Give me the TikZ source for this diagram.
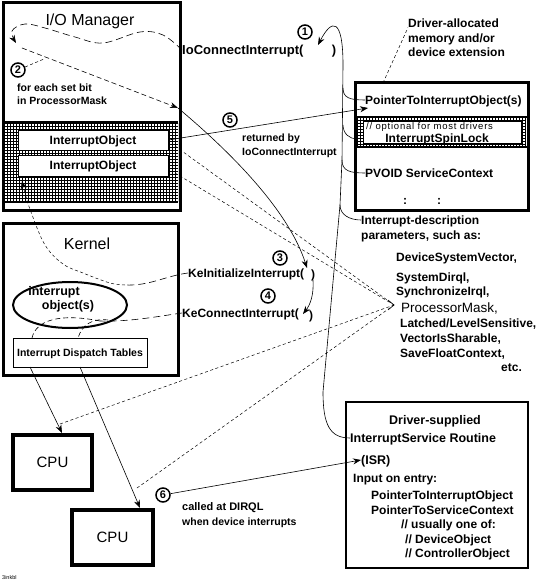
\documentclass[tikz,border=0pt]{standalone}
\usepackage{fontspec}
\setmainfont{Liberation Sans}
\usetikzlibrary{arrows.meta,shapes.geometric}
\newcommand\myfs[1]{\fontsize{#1}{#1}\selectfont}
\tikzset{
  txb/.style={font=\bfseries\myfs{#1}, inner sep=0pt, text height=0.72*#1pt, text depth=0pt},
  txr/.style={font=\myfs{#1}, inner sep=0pt, text height=0.72*#1pt, text depth=0pt},
  heavy/.style={draw, line width=3pt, inner sep=0pt},
  wbox/.style={draw, line width=0.8pt, fill=white},
  num/.style={circle, draw, line width=1.5pt, minimum size=14pt, inner sep=0pt, font=\bfseries\myfs{11}},
  conn/.style={line width=0.6pt},
  arr/.style={-{Stealth[length=8pt,width=6pt]}},
  longdash/.style={dash pattern=on 7pt off 4pt, line width=0.6pt},
  middash/.style={dash pattern=on 5pt off 3pt, line width=0.6pt},
  finedash/.style={dash pattern=on 3pt off 2.5pt, line width=0.5pt},
  gridln/.style={line width=0.65pt},
}
\begin{document}
\begin{tikzpicture}[x=1pt,y=-1pt]
\useasboundingbox (0,0) rectangle (538,583);

% ---------- I/O Manager ----------
\begin{scope}
\clip (4,123) rectangle (178,202);
\foreach \k in {0,...,58} {\draw[gridln] ({4+3*\k},123) -- ({4+3*\k},202);}
\foreach \k in {0,...,27} {\draw[gridln] (4,{123+3*\k}) -- (178,{123+3*\k});}
\end{scope}
\draw[line width=2pt] (4,122) -- (178,122) (4,202) -- (178,202);
\node[heavy, minimum width=177pt, minimum height=207pt] (io) at (91.5,106.5) {};
\node[txr=16] (iot) at (90,20) {I/O Manager};
\node[wbox, txb=12, minimum width=150pt, minimum height=20pt] (ioA) at (93,140) {InterruptObject};
\node[wbox, txb=12, minimum width=150pt, minimum height=21pt] (ioB) at (93,165.5) {InterruptObject};
\node[txb=10.5, anchor=west] (fe1) at (17,88) {for each set bit};
\node[txb=10.5, anchor=west] (fe2) at (17,101) {in ProcessorMask};

% ---------- Driver-allocated memory ----------
\begin{scope}
\clip (357,118) rectangle (526,147);
\foreach \k in {0,...,57} {\draw[gridln] ({357+3*\k},117) -- ({357+3*\k},147);}
\foreach \k in {0,...,10} {\draw[gridln] (357,{117+3*\k}) -- (526,{117+3*\k});}
\end{scope}
\draw[line width=2pt] (356,117) -- (527,117) (356,147) -- (527,147);
\node[heavy, minimum width=173pt, minimum height=127pt] (dab) at (441.5,146.5) {};
\node[wbox, minimum width=158pt, minimum height=22pt] (spin) at (442,132) {};
\node[txr=9.5, anchor=west, font=\myfs{9.5}\addfontfeature{LetterSpace=8}] (opt) at (366,126.5) {// optional for most drivers};
\node[txb=12] (spl) at (437,138.5) {InterruptSpinLock};
\node[txb=12, anchor=west] (ptr) at (365,100) {PointerToInterruptObject(s)};
\node[txb=12, anchor=west] (pvoid) at (365,173) {PVOID ServiceContext};
\node[txb=12] (dots) at (422,200) {:\hspace{30pt}:};
\node[txb=12, anchor=west] (dal) at (408,23) {Driver-allocated};
\node[txb=12, anchor=west] (dal2) at (408,38) {memory and/or};
\node[txb=12, anchor=west] (dal3) at (408,52) {device extension};

% ---------- calls ----------
\node[txb=13, anchor=west] (ioc) at (182,50) {IoConnectInterrupt(};
\node[txb=13] (iocp) at (334,50) {)};
\node[txb=12, anchor=west] (kei) at (188,273) {KeInitializeInterrupt(};
\node[txb=12] (keip) at (313,274) {)};
\node[txb=12, anchor=west] (kec) at (182,313) {KeConnectInterrupt(};
\node[txb=12] (kecp) at (311,315) {)};
\node[txb=10.5, anchor=west] (ret1) at (242,138) {returned by};
\node[txb=10.5, anchor=west] (ret2) at (242,152) {IoConnectInterrupt};

% ---------- parameters ----------
\node[txb=12, anchor=west] (idesc) at (361,220) {Interrupt-description};
\node[txb=12, anchor=west] (idesc2) at (361,235) {parameters, such as:};
\node[txb=12, anchor=west] (p1) at (396,257) {DeviceSystemVector,};
\node[txb=12, anchor=west] (p2) at (396,277) {SystemDirql,};
\node[txb=12, anchor=west] (p3) at (396,291) {SynchronizeIrql,};
\node[txr=13.5, anchor=west] (p4) at (401,308) {ProcessorMask,};
\node[txb=12, anchor=west] (p5) at (400,323) {Latched/LevelSensitive,};
\node[txb=12, anchor=west] (p6) at (400,338) {VectorIsSharable,};
\node[txb=12, anchor=west] (p7) at (400,353) {SaveFloatContext,};
\node[txb=12, anchor=west] (p8) at (501,367) {etc.};

% ---------- Kernel ----------
\node[heavy, minimum width=175pt, minimum height=152pt] (kern) at (90.5,299) {};
\node[txr=16] (kt) at (87,244) {Kernel};
\node[draw, ellipse, line width=2pt, minimum width=114pt, minimum height=46pt, inner sep=0pt] (ell) at (70,305) {};
\node[txb=12.5] (eo1) at (54,291) {interrupt};
\node[txb=12.5] (eo2) at (68,305) {object(s)};
\node[wbox, txb=10.5, minimum width=134pt, minimum height=29pt] (idt) at (80,352.5) {Interrupt Dispatch Tables};

% ---------- CPUs ----------
\node[draw, line width=4pt, minimum width=79pt, minimum height=55pt, txr=15] (cpu1) at (52.5,462.5) {CPU};
\node[draw, line width=4pt, minimum width=81pt, minimum height=55pt, txr=15] (cpu2) at (112.5,537.5) {CPU};
\node[txb=11, anchor=west] (cal1) at (182,507) {called at DIRQL};
\node[txb=10.5, anchor=west] (cal2) at (182,522) {when device interrupts};

% ---------- ISR ----------
\node[draw, line width=2.5pt, minimum width=182pt, minimum height=166pt, inner sep=0pt] (isr) at (437,485) {};
\node[txb=12.5] (is1) at (435,420) {Driver-supplied};
\node[txb=12.5, anchor=west] (isrR) at (350,438) {InterruptService Routine};
\node[txb=12.5, anchor=west] (isrl) at (361,460) {(ISR)};
\node[txb=12, anchor=west] (is3) at (353,478) {Input on entry:};
\node[txb=12, anchor=west] (is4) at (371,495) {PointerToInterruptObject};
\node[txb=12, anchor=west] (is5) at (371,510) {PointerToServiceContext};
\node[txb=12, anchor=west] (is6) at (401,524) {// usually one of:};
\node[txb=12, anchor=west] (is7) at (405,539) {// DeviceObject};
\node[txb=12, anchor=west] (is8) at (405,553) {// ControllerObject};

\node[txr=5.5, anchor=west] (tag) at (2,578) {3inkbl};

% ---------- numbered circles ----------
\node[num] (n1) at (305,32) {1};
\node[num] (n2) at (18,70) {2};
\node[num] (n3) at (280,258) {3};
\node[num] (n4) at (268,296) {4};
\node[num] (n5) at (230,120) {5};
\node[num] (n6) at (163,495) {6};

% ---------- coordinates ----------
\coordinate (c2e) at (44,59);
\coordinate (dstart) at (22,48);
\coordinate (ioR) at (178,108);
\coordinate (kiin) at (307,268);
\coordinate (kiout) at (313,280);
\coordinate (kcin) at (303,314);
\coordinate (ptrtip) at (368,108);
\coordinate (n1tip) at (318,45);
\coordinate (h1) at (343,88);
\coordinate (h2) at (343,125);
\coordinate (h2e) at (357,139);
\coordinate (h3) at (342,160);
\coordinate (h4) at (340,205);
\coordinate (dtop) at (383,83);
\coordinate (kmid1) at (125,285);
\coordinate (kmid2) at (100,321);
\coordinate (kmid3) at (108,320);
\coordinate (ia) at (32,338);
\coordinate (ib) at (78,338);
\coordinate (i1) at (30,367);
\coordinate (i2) at (80,367);
\coordinate (c1tip) at (62,433);
\coordinate (c2tip) at (140,508);
\coordinate (P) at (394,305);
\coordinate (oA) at (175,146);
\coordinate (oB) at (175,173);
\coordinate (cA) at (60,424);
\coordinate (cB) at (137,488);

% ---------- connectors ----------
\draw[longdash, arr] plot[smooth, tension=0.6] coordinates {(ioc.west) (163,35) (140,32) (103,43) (75,37) (45,28) (25,24) (12,31) (16,43)};
\draw[finedash] (n2) -- (c2e);
\draw[middash, arr] (dstart) -- (ioR);
\draw[conn, arr] (ioR) .. controls (240,160) and (290,215) .. (kiin);
\draw[conn, arr] (kiout) .. controls (314,295) and (310,305) .. (kcin);
\draw[conn, arr] (ioA.east) -- (ptrtip);
\draw[conn, arr] (isrR.west) .. controls (330,438) and (323,425) .. (323,392) -- (h4) -- (h3) -- (343,65) .. controls (343,18) and (332,18) .. (n1tip);
\draw[conn] (h1) .. controls (343,98) and (350,100) .. (ptr.west);
\draw[conn] (h2) .. controls (343,134) and (350,139) .. (h2e);
\draw[conn] (h3) .. controls (342,171) and (350,173) .. (pvoid.west);
\draw[conn] (h4) .. controls (340,215) and (350,220) .. (idesc.west);
\draw[finedash] (dtop) -- (dal.south west);

\draw[longdash] (kei.west) .. controls (165,276) and (150,286) .. (kmid1);
\draw[finedash, arr] plot[smooth, tension=0.6] coordinates {(kmid1) (110,283) (83,273) (63,264) (45,245) (31,212) (25,193) (22,181)};
\draw[longdash] (kec.west) .. controls (160,316) and (130,322) .. (kmid2);
\draw[middash] (kmid2) .. controls (60,313) and (36,320) .. (ia);
\draw[middash] (kmid3) .. controls (92,318) and (82,325) .. (ib);

\draw[conn, arr] (i1) -- (c1tip);
\draw[conn, arr] (i2) -- (c2tip);

\draw[finedash] (oA) -- (P);
\draw[finedash] (oB) -- (P);
\draw[finedash] (cA) -- (P);
\draw[finedash] (cB) -- (P);
\draw[conn] ([shift={(-6,-5)}]P) -- (P) -- ([shift={(-6,5)}]P);

\draw[conn, arr] (n6) -- (isrl.west);
\end{tikzpicture}
\end{document}
